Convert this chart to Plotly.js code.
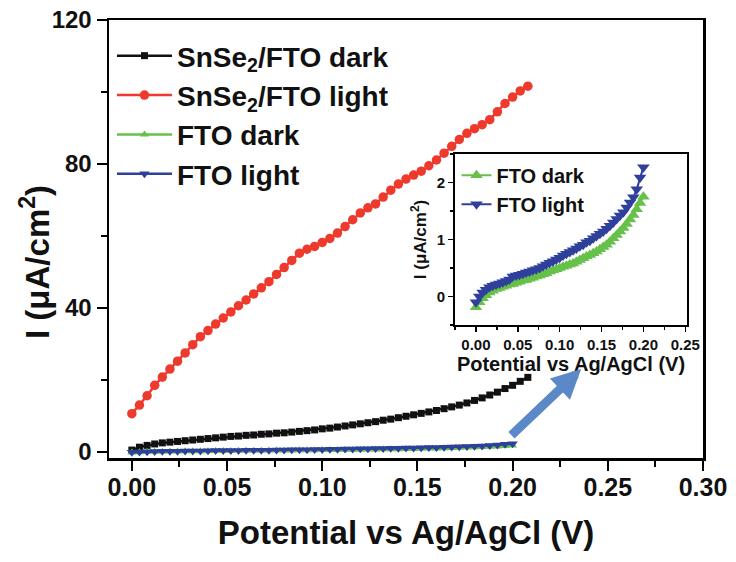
<!DOCTYPE html>
<html>
<head>
<meta charset="utf-8">
<script src="https://cdn.plot.ly/plotly-3.0.1.min.js"></script>
<style>html,body{margin:0;padding:0;background:#fff;}#plot{width:736px;height:562px;}</style>
</head>
<body>
<div id="plot"></div>
<script>
// Potential (V) grids
const potSnSe2 = [0,0.004,0.008,0.012,0.016,0.020,0.024,0.028,0.032,0.036,0.040,0.044,0.048,0.052,0.056,0.060,0.064,0.068,0.072,0.076,0.080,0.084,0.088,0.092,0.096,0.100,0.104,0.108,0.112,0.116,0.120,0.124,0.128,0.132,0.136,0.140,0.144,0.148,0.152,0.156,0.160,0.164,0.168,0.172,0.176,0.180,0.184,0.188,0.192,0.196,0.200,0.204,0.208];
const potFTO = [0,0.004,0.008,0.012,0.016,0.020,0.024,0.028,0.032,0.036,0.040,0.044,0.048,0.052,0.056,0.060,0.064,0.068,0.072,0.076,0.080,0.084,0.088,0.092,0.096,0.100,0.104,0.108,0.112,0.116,0.120,0.124,0.128,0.132,0.136,0.140,0.144,0.148,0.152,0.156,0.160,0.164,0.168,0.172,0.176,0.180,0.184,0.188,0.192,0.196,0.200];

// Current density (uA/cm2)
const snse2Dark = [0.5,1.3,1.8,2.2,2.5,2.7,2.9,3.1,3.3,3.5,3.7,3.9,4.1,4.3,4.4,4.6,4.7,4.9,5.0,5.2,5.3,5.5,5.7,5.9,6.1,6.4,6.6,6.9,7.2,7.5,7.8,8.1,8.4,8.8,9.1,9.5,9.9,10.3,10.7,11.1,11.5,12.0,12.5,13.0,13.6,14.3,15.0,15.8,16.6,17.6,18.5,19.6,20.7];
const snse2Light = [10.6,13.0,15.6,18.5,20.8,23.0,25.2,27.5,29.8,32.0,33.7,35.5,37.2,38.9,40.6,42.2,43.9,45.6,47.3,49.3,51.2,53.2,55.2,56.3,57.1,58.2,59.3,60.8,62.6,64.5,66.4,67.8,68.9,70.8,72.7,74.4,75.8,76.9,78.0,79.5,81.1,83.0,84.9,86.8,88.5,89.8,90.9,92.3,94.5,96.8,98.6,100.3,101.6];
const ftoDark = [-0.19,-0.10,-0.03,0.02,0.07,0.10,0.13,0.15,0.17,0.19,0.21,0.22,0.24,0.26,0.28,0.29,0.31,0.33,0.35,0.37,0.39,0.41,0.44,0.46,0.48,0.50,0.52,0.54,0.56,0.58,0.61,0.64,0.67,0.70,0.73,0.76,0.79,0.83,0.87,0.91,0.96,1.02,1.08,1.14,1.20,1.27,1.35,1.43,1.53,1.64,1.75];
const ftoLight = [-0.10,0.00,0.07,0.12,0.16,0.19,0.21,0.23,0.25,0.27,0.30,0.35,0.37,0.38,0.40,0.42,0.44,0.46,0.48,0.50,0.53,0.56,0.59,0.62,0.65,0.68,0.72,0.75,0.78,0.81,0.84,0.88,0.91,0.95,0.98,1.02,1.06,1.10,1.14,1.19,1.24,1.30,1.36,1.42,1.48,1.56,1.65,1.74,1.88,2.09,2.27];

const names = ['SnSe<sub>2</sub>/FTO dark','SnSe<sub>2</sub>/FTO light','FTO dark','FTO light'];
const yTitle = 'I (\u03bcA/cm<sup>2</sup>)';
const xTitle = 'Potential vs Ag/AgCl (V)';
const mainTicks = [0,40,80,120];
const xTicks = [0,0.05,0.10,0.15,0.20,0.25,0.30];
const insetXTicks = [0,0.05,0.10,0.15,0.20,0.25];
const insetYTicks = [0,1,2];

const cBlack='#111111', cRed='#ee3a2c', cGreen='#66c14a', cBlue='#2e3f9c';
const F = 'Liberation Sans, Arial, Helvetica, sans-serif';

const traces = [
  {x:potSnSe2, y:snse2Dark, name:names[0], mode:'lines+markers', line:{color:cBlack,width:2.5}, marker:{symbol:'square',size:7,color:cBlack}, legend:'legend'},
  {x:potSnSe2, y:snse2Light, name:names[1], mode:'lines+markers', line:{color:cRed,width:2.5}, marker:{symbol:'circle',size:9.5,color:cRed}, legend:'legend'},
  {x:potFTO, y:ftoDark, name:names[2], mode:'lines+markers', line:{color:cGreen,width:2.5}, marker:{symbol:'triangle-up',size:8,color:cGreen}, legend:'legend'},
  {x:potFTO, y:ftoLight, name:names[3], mode:'lines+markers', line:{color:cBlue,width:2.5}, marker:{symbol:'triangle-down',size:9,color:cBlue}, legend:'legend'},
  {x:potFTO, y:ftoDark, name:names[2], mode:'lines+markers', xaxis:'x2', yaxis:'y2', line:{color:cGreen,width:2}, marker:{symbol:'triangle-up',size:11,color:cGreen}, legend:'legend2'},
  {x:potFTO, y:ftoLight, name:names[3], mode:'lines+markers', xaxis:'x2', yaxis:'y2', line:{color:cBlue,width:2}, marker:{symbol:'triangle-down',size:11,color:cBlue}, legend:'legend2'}
];

const axCommon = {showgrid:false, zeroline:false, showline:true, linecolor:'#000', mirror:true, ticks:'outside', tickcolor:'#000'};

const layout = {
  width:736, height:562,
  margin:{l:109, r:33, t:20, b:104},
  paper_bgcolor:'#fff', plot_bgcolor:'#fff',
  showlegend:true,
  xaxis: Object.assign({}, axCommon, {
    range:[-0.012,0.30], tickvals:xTicks, ticktext:xTicks.map(v=>v.toFixed(2)),
    linewidth:2.5, ticklen:10, tickwidth:2, ticklabelstandoff:-5,
    minor:{dtick:0.025, tick0:0, ticks:'outside', ticklen:6, tickwidth:2, tickcolor:'#000'},
    tickfont:{family:F, size:25, color:'#111', weight:'bold'},
    title:{text:xTitle, font:{family:F, size:33, color:'#111', weight:'bold'}, standoff:22}
  }),
  yaxis: Object.assign({}, axCommon, {
    range:[-1.7,120], tickvals:mainTicks, ticktext:mainTicks.map(String),
    linewidth:2.5, ticklen:10, tickwidth:2,
    minor:{dtick:20, tick0:0, ticks:'outside', ticklen:6, tickwidth:2, tickcolor:'#000'},
    tickfont:{family:F, size:24, color:'#111', weight:'bold'}
  }),
  xaxis2: Object.assign({}, axCommon, {
    domain:[0.5825,0.973], anchor:'y2',
    range:[-0.025,0.252], tickvals:insetXTicks, ticktext:insetXTicks.map(v=>v.toFixed(2)),
    linewidth:1.8, ticklen:5, tickwidth:1.5,
    minor:{dtick:0.025, tick0:0, ticks:'outside', ticklen:3, tickwidth:1.5, tickcolor:'#000'},
    tickfont:{family:F, size:15, color:'#111', weight:'bold'},
    title:{text:xTitle, font:{family:F, size:20, color:'#111', weight:'bold'}, standoff:4}
  }),
  yaxis2: Object.assign({}, axCommon, {
    domain:[0.3037,0.694], anchor:'x2',
    range:[-0.5,2.5], tickvals:insetYTicks, ticktext:insetYTicks.map(String),
    linewidth:1.8, ticklen:5, tickwidth:1.5,
    minor:{dtick:0.5, tick0:0, ticks:'outside', ticklen:3, tickwidth:1.5, tickcolor:'#000'},
    tickfont:{family:F, size:15, color:'#111', weight:'bold'},
    title:{text:yTitle, font:{family:F, size:17, color:'#111', weight:'bold'}, standoff:6}
  }),
  legend:{x:0.005, y:0.975, xanchor:'left', yanchor:'top', bgcolor:'rgba(0,0,0,0)', itemwidth:55, tracegroupgap:0,
    font:{family:F, size:28, color:'#111', weight:'bold'}},
  legend2:{x:0.585, y:0.69, xref:'paper', yref:'paper', xanchor:'left', yanchor:'top', bgcolor:'rgba(0,0,0,0)', itemwidth:30,
    font:{family:F, size:20, color:'#111', weight:'bold'}},
  annotations:[
    {x:0.236, y:23, xref:'x', yref:'y', ax:0.1986, ay:4.25, axref:'x', ayref:'y',
     showarrow:true, arrowhead:2, arrowwidth:9, arrowsize:0.65, arrowcolor:'#5b89c8', text:''},
    {text:yTitle, xref:'paper', yref:'paper', x:-0.1246, y:0.4475, xanchor:'center', yanchor:'middle',
     textangle:-90, showarrow:false, font:{family:F, size:33, color:'#111', weight:'bold'}}
  ]
};

Plotly.newPlot('plot', traces, layout, {displayModeBar:false, staticPlot:true});
</script>
</body>
</html>
